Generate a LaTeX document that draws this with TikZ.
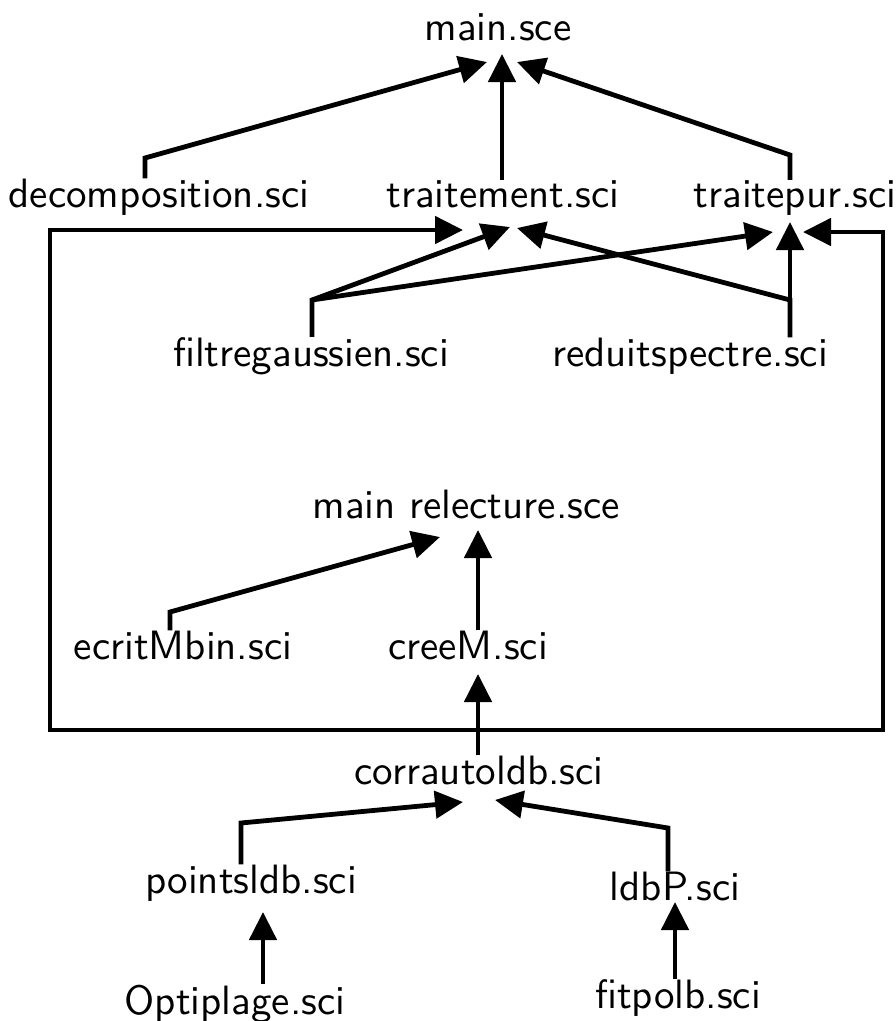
\documentclass[tikz,border=0pt]{standalone}
\usepackage{fontspec}
\newfontfamily\lblfont{lmsans10-regular.otf}
\usetikzlibrary{arrows.meta,calc}
\begin{document}
\begin{tikzpicture}[x=1pt,y=-1pt,
  lbl/.style={anchor=base,inner sep=0pt,font=\lblfont\fontsize{41}{48}\selectfont},
  arr/.style={line width=4.8pt,-{Triangle[length=28pt,width=27pt]}}]
\useasboundingbox (0,0) rectangle (896,1021);
% nodes
\node[lbl] (main) at (498,40) {main.sce};
\node[lbl] (dec) at (159,207) {decomposition.sci};
\node[lbl] (trait) at (503,207) {traitement.sci};
\node[lbl] (tpur) at (795,207) {traitepur.sci};
\node[lbl] (filt) at (311,366) {filtregaussien.sci};
\node[lbl] (red) at (690,366) {reduitspectre.sci};
\node[lbl] (mrel) at (466,518) {main relecture.sce};
\node[lbl] (ecrit) at (183,659) {ecritMbin.sci};
\node[lbl] (cree) at (468,659) {creeM.sci};
\node[lbl] (corr) at (479,784) {corrautoldb.sci};
\node[lbl] (pts) at (251,893) {pointsldb.sci};
\node[lbl] (ldbp) at (675,900) {ldbP.sci};
\node[lbl] (opti) at (235,1014) {Optiplage.sci};
\node[lbl] (fit) at (678,1008) {fitpolb.sci};
% arrow tips (free ends)
\coordinate (mainL) at (487,62);
\coordinate (mainC) at (502,54);
\coordinate (mainR) at (517,62);
\coordinate (traitL) at (463,230);
\coordinate (traitF) at (510,227);
\coordinate (traitR) at (517,228);
\coordinate (tpurF) at (773,232);
\coordinate (tpurC) at (790,222);
\coordinate (tpurR) at (803,232);
\coordinate (mrelL) at (440,537);
\coordinate (mrelC) at (478,530);
\coordinate (creeB) at (478,674);
\coordinate (corrL) at (463,802);
\coordinate (corrR) at (495,800);
\coordinate (ptsB) at (263,912);
\coordinate (ldbpB) at (675,902);
% bends
\coordinate (decK) at (145,158);
\coordinate (tpurK) at (790,155);
\coordinate (filtK) at (312,300);
\coordinate (redK) at (790,300);
\coordinate (ecritK) at (170,612);
\coordinate (ptsK) at (241,823);
\coordinate (ldbpK) at (668,828);
\coordinate (corrK) at (478,730);
\coordinate (boxBL) at (50,730);
\coordinate (boxTL) at (50,230);
\coordinate (boxBR) at (883,730);
\coordinate (boxTR) at (883,232);
% connectors
\draw[arr] (dec.north -| decK) -- (decK) -- (mainL);
\draw[arr] (trait.north -| mainC) -- (mainC);
\draw[arr] (tpur.north -| tpurK) -- (tpurK) -- (mainR);
\draw[arr] (corr.north -| corrK) -- (corrK) -- (boxBL) -- (boxTL) -- (traitL);
\draw[arr] (corrK) -- (boxBR) -- (boxTR) -- (tpurR);
\draw[arr] (corr.north -| creeB) -- (creeB);
\draw[arr] (filt.north -| filtK) -- (filtK) -- (traitF);
\draw[arr] (filtK) -- (tpurF);
\draw[arr] (red.north -| redK) -- (redK) -- (traitR);
\draw[arr] (red.north -| tpurC) -- (tpurC);
\draw[arr] (ecrit.north -| ecritK) -- (ecritK) -- (mrelL);
\draw[arr] (cree.north -| mrelC) -- (mrelC);
\draw[arr] (pts.north -| ptsK) -- (ptsK) -- (corrL);
\draw[arr] (ldbp.north -| ldbpK) -- (ldbpK) -- (corrR);
\draw[arr] (opti.north -| ptsB) -- (ptsB);
\draw[arr] (fit.north -| ldbpB) -- (ldbpB);
\end{tikzpicture}
\end{document}
